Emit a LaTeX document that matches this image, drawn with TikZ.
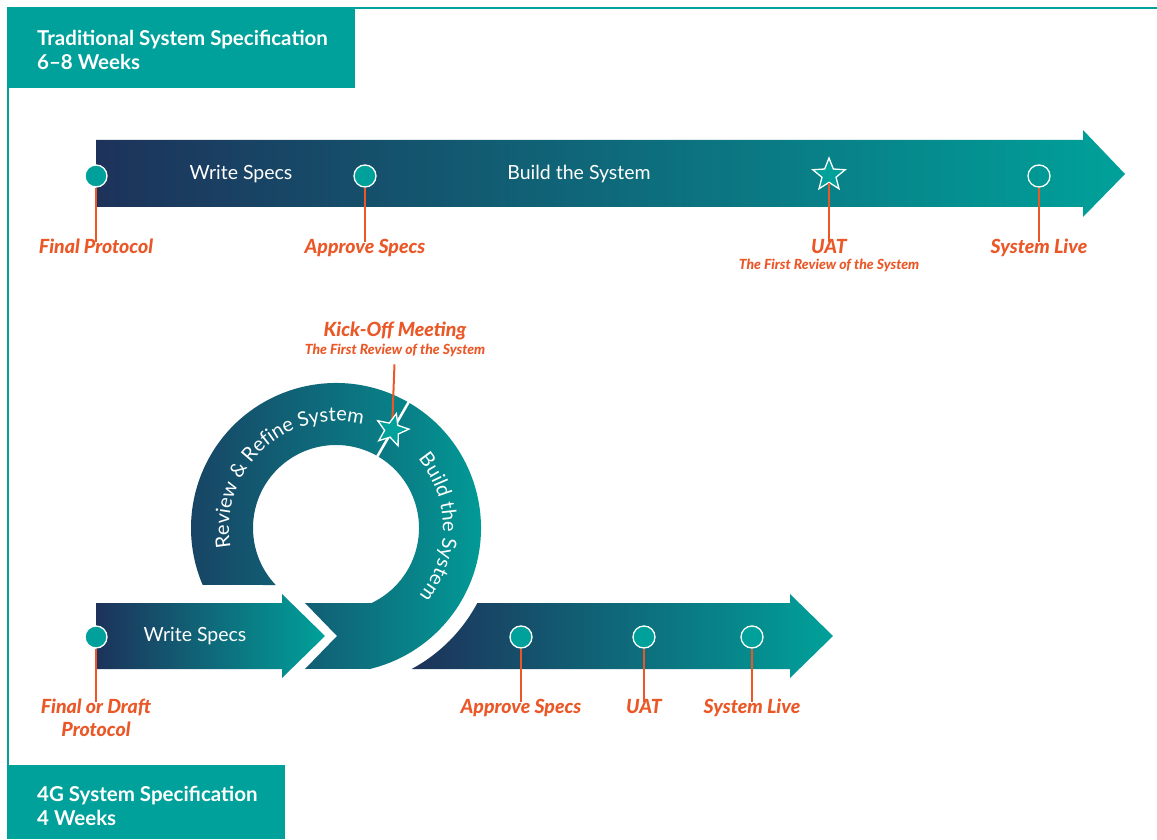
\documentclass[tikz,border=0pt]{standalone}
\usepackage{fontspec}
\setmainfont{Lato}
\IfFontExistsTF{Lato Black Italic}{\newfontfamily\heavyit{Lato Black Italic}}{\newfontfamily\heavyit{Lato Bold Italic}}
\usepackage{tikz}
\usetikzlibrary{shapes.geometric,positioning,calc,decorations.text}
\definecolor{navy}{RGB}{29,50,90}
\definecolor{tealc}{RGB}{0,161,154}
\definecolor{flame}{RGB}{234,88,40}

\begin{document}
\begin{tikzpicture}[x=1pt,y=1pt,
    band/.style={left color=navy, right color=tealc},
    dot/.style={circle, fill=tealc, draw=white, line width=1.3pt, minimum size=22pt, inner sep=0pt},
    hollow/.style={circle, draw=white, line width=1.3pt, minimum size=22pt, inner sep=0pt},
    mstar/.style={star, star points=5, star point ratio=2.3, fill=tealc, draw=white, line width=1.3pt, minimum size=34pt, inner sep=0pt},
    tick/.style={flame, line width=2pt, shorten >=-5pt},
    milestone/.style={text=flame, font=\fontsize{19.5}{23}\heavyit, inner sep=2pt, align=center, anchor=north},
    subnote/.style={text=flame, font=\fontsize{14}{16}\heavyit, inner sep=0pt},
    steptext/.style={text=white, font=\fontsize{19.5}{23}\selectfont},
    hdrtext/.style={text=white, font=\fontsize{20.5}{23.5}\selectfont\bfseries, align=left, anchor=west, inner sep=0pt},
    frame/.style={tealc, line width=2pt}]
  \useasboundingbox (0,0) rectangle (1157,839);

  % headers and frame
  \fill[tealc] (7,751) rectangle (355,832);
  \node[hdrtext] (tradhdr) at (37,789) {Traditional System Specification\\6--8 Weeks};
  \fill[tealc] (7,0) rectangle (285,74);
  \node[hdrtext] (fourghdr) at (37,33) {4G System Specification\\4 Weeks};
  \draw[frame] (355,831) -- (1157,831);
  \draw[frame] (8,751) -- (8,74);

  % traditional timeline
  \shade[band] (96,699) -- (1083,699) -- (1083,709) -- (1125,665) -- (1083,622) -- (1083,632) -- (96,632) -- cycle;
  \node[steptext] (writeA) at (241,665) {Write Specs};
  \node[steptext] (buildA) at (579,665) {Build the System};
  \node[dot] (fp) at (96,663) {};
  \node[dot] (asA) at (365,663) {};
  \node[mstar] (uatA) at (829,664) {};
  \node[hollow] (liveA) at (1039,663) {};
  \node[milestone] (fplab) at (96,602) {Final Protocol};
  \node[milestone] (asAlab) at (365,602) {Approve Specs};
  \node[milestone] (uatAlab) at (829,602) {UAT};
  \node[subnote, below=3pt of uatAlab] (uatAsub) {The First Review of the System};
  \node[milestone] (liveAlab) at (1039,602) {System Live};
  \draw[tick] (fp) -- (fplab);
  \draw[tick] (asA) -- (asAlab);
  \draw[tick] (uatA) -- (uatAlab);
  \draw[tick] (liveA) -- (liveAlab);

  % 4G timeline with loop
  \coordinate (c) at (336,311);
  \shade[band] (96,236) -- (282,236) -- (282,245) -- (325,203) -- (282,161) -- (282,170) -- (96,170) -- cycle;
  \shade[left color=navy!85!tealc, right color=tealc!74!navy] ($(c)+(60:145)$) arc[start angle=60, end angle=203.1, radius=145]
    -- ($(c)+(223.4:83)$) arc[start angle=223.4, end angle=60, radius=83] -- cycle;
  \shade[left color=tealc!39!navy, right color=tealc] ($(c)+(60:83)$) -- ($(c)+(60:145)$) arc[start angle=60, end angle=-76.4, radius=145]
    -- (305,170) -- (337,203) -- (305,236) -- ($(c)+(-64.7:83)$) arc[start angle=-64.7, end angle=60, radius=83] -- cycle;
  \draw[white, line width=2.5pt] ($(c)+(60:81)$) -- ($(c)+(60:147)$);
  \shade[band] ($(c)+(-27.96:160)$) -- (790,236) -- (790,245) -- (833,203) -- (790,161) -- (790,170)
    -- ($(c)+(-61.8:160)$) arc[start angle=-61.8, end angle=-27.96, radius=160] -- cycle;
  \path[decorate, decoration={text along path, text align=center,
    text={|\color{white}\fontsize{20}{23}\selectfont|Review {\&} Refine System}}]
    ($(c)+(195:107)$) arc[start angle=195, end angle=71, radius=107];
  \path[decorate, decoration={text along path, text align=center,
    text={|\color{white}\fontsize{20}{23}\selectfont|Build the System}}]
    ($(c)+(45:107)$) arc[start angle=45, end angle=-44, radius=107];
  \node[steptext] (writeB) at (195,203) {Write Specs};
  \node[dot] (fdp) at (96,202) {};
  \node[dot] (asB) at (521,202) {};
  \node[dot] (uatB) at (644,202) {};
  \node[dot] (liveB) at (752,202) {};
  \node[milestone] (fdplab) at (96,142) {Final or Draft\\Protocol};
  \node[milestone] (asBlab) at (521,142) {Approve Specs};
  \node[milestone] (uatBlab) at (644,142) {UAT};
  \node[milestone] (liveBlab) at (752,142) {System Live};
  \draw[tick] (fdp) -- (fdplab);
  \draw[tick] (asB) -- (asBlab);
  \draw[tick] (uatB) -- (uatBlab);
  \draw[tick] (liveB) -- (liveBlab);

  % kick-off
  \node[milestone, anchor=center] (kolab) at (395,508) {Kick-Off Meeting};
  \node[subnote, below=2pt of kolab] (kosub) {The First Review of the System};
  \draw[tick, shorten <=7pt, shorten >=0pt] (kosub) -- (392,409);
  \node[mstar, rotate=-15] (ko) at (392,409) {};
\end{tikzpicture}
\end{document}
